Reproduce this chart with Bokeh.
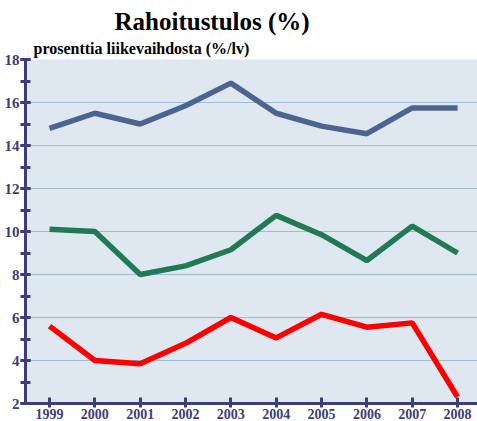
from bokeh.plotting import figure
from bokeh.models import Title, SingleIntervalTicker, FixedTicker, Range1d
from bokeh.embed import file_html
from bokeh.resources import INLINE

years = [1999, 2000, 2001, 2002, 2003, 2004, 2005, 2006, 2007, 2008]
blue_vals = [14.8, 15.5, 15.0, 15.85, 16.9, 15.5, 14.9, 14.55, 15.75, 15.75]
green_vals = [10.1, 10.0, 8.0, 8.4, 9.15, 10.75, 9.85, 8.65, 10.25, 9.0]
red_vals = [5.6, 4.0, 3.85, 4.8, 6.0, 5.05, 6.15, 5.55, 5.75, 2.3]
y_ticks = [2, 4, 6, 8, 10, 12, 14, 16, 18]

navy = "#3c3c7c"
serif = "Liberation Serif"

p = figure(width=477, height=421, output_backend="svg", toolbar_location=None,
           x_range=Range1d(1998.47, 2008.44), y_range=Range1d(2, 18),
           background_fill_color="#dfe8f0", border_fill_color="white",
           min_border_left=25, min_border_right=0, min_border_bottom=18, min_border_top=0)
p.outline_line_color = None

p.title.text = " "
p.title.text_font_size = "3px"
p.title.standoff = 0
p.add_layout(Title(text="prosenttia liikevaihdosta (%/lv)", align="left", text_font=serif,
                   text_font_size="16px", text_font_style="bold", text_color="black",
                   offset=8, standoff=6), "above")
p.add_layout(Title(text="Rahoitustulos (%)", align="left", text_font=serif,
                   text_font_size="25px", text_font_style="bold", text_color="black",
                   offset=89, standoff=0), "above")

p.line(years, blue_vals, line_color="#4c6590", line_width=5.5)
p.line(years, green_vals, line_color="#1f7a55", line_width=5.5)
p.line(years, red_vals, line_color="#ff0000", line_width=5.5)

p.xgrid.visible = False
p.ygrid.ticker = FixedTicker(ticks=y_ticks[1:])
p.ygrid.grid_line_color = "#9dbbd3"
p.ygrid.grid_line_width = 1

yax = p.yaxis[0]
yax.ticker = SingleIntervalTicker(interval=2, num_minor_ticks=2)
yax.axis_line_color = navy
yax.axis_line_width = 3
yax.major_tick_line_color = navy
yax.major_tick_line_width = 3
yax.major_tick_in = 5
yax.major_tick_out = 5
yax.minor_tick_line_color = navy
yax.minor_tick_line_width = 3
yax.minor_tick_in = 5
yax.minor_tick_out = 5
yax.major_label_text_font = serif
yax.major_label_text_font_style = "bold"
yax.major_label_text_font_size = "15px"
yax.major_label_text_color = navy
yax.major_label_standoff = 1

xax = p.xaxis[0]
xax.ticker = FixedTicker(ticks=years)
xax.axis_line_color = navy
xax.axis_line_width = 3
xax.major_tick_line_color = navy
xax.major_tick_line_width = 3
xax.major_tick_in = 6
xax.major_tick_out = 4
xax.minor_tick_line_color = None
xax.major_label_text_font = serif
xax.major_label_text_font_style = "bold"
xax.major_label_text_font_size = "14px"
xax.major_label_text_color = navy
xax.major_label_standoff = 1

open("out.html", "w").write(file_html(p, INLINE))
